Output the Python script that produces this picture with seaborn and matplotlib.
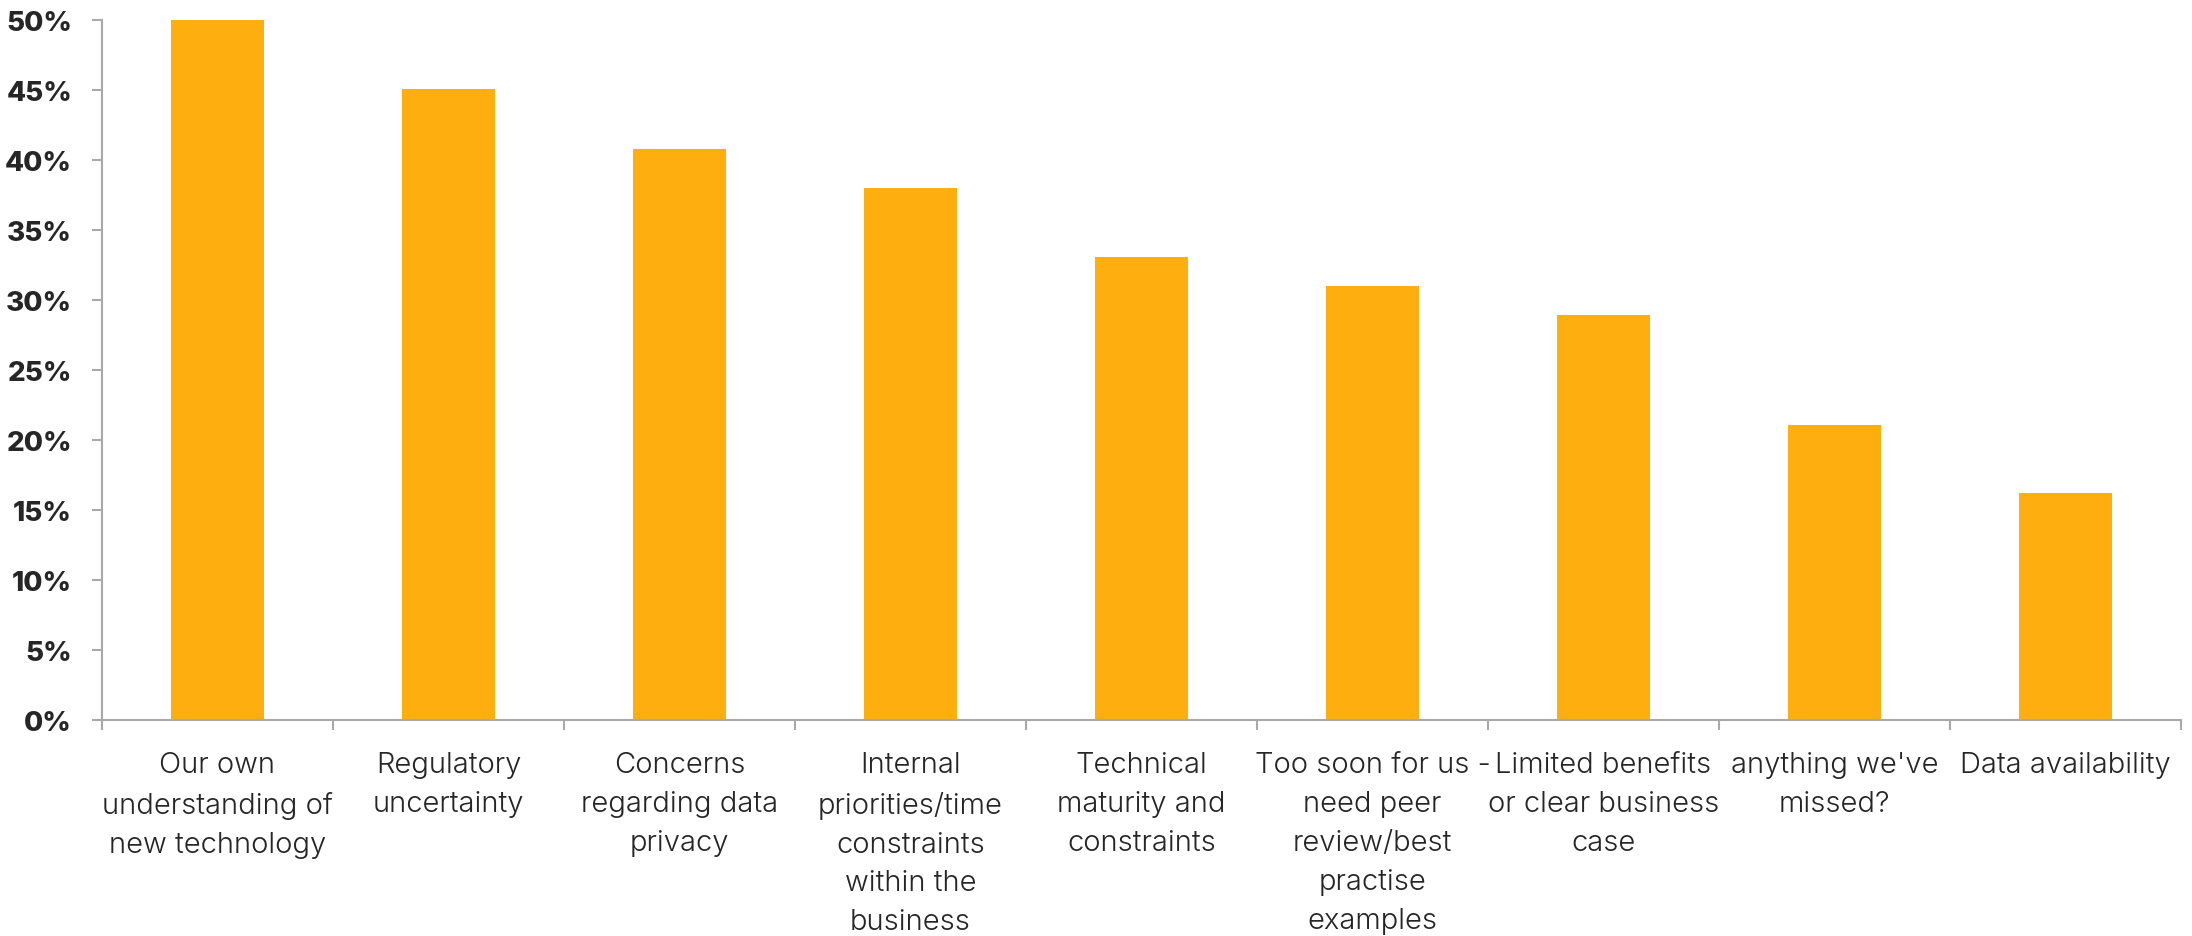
import matplotlib
matplotlib.use("Agg")
import matplotlib.pyplot as plt
from matplotlib.ticker import FixedLocator, NullFormatter
import seaborn as sns

# Survey: barriers to adopting new technology (share of respondents, %)
categories = [
    "Our own\nunderstanding of\nnew technology",
    "Regulatory\nuncertainty",
    "Concerns\nregarding data\nprivacy",
    "Internal\npriorities/time\nconstraints\nwithin the\nbusiness",
    "Technical\nmaturity and\nconstraints",
    "Too soon for us -\nneed peer\nreview/best\npractise\nexamples",
    "Limited benefits\nor clear business\ncase",
    "anything we've\nmissed?",
    "Data availability",
]
shares = [50.0, 45.1, 40.8, 38.0, 33.1, 31.0, 28.9, 21.1, 16.2]
y_ticks = [0, 5, 10, 15, 20, 25, 30, 35, 40, 45, 50]
y_tick_labels = [f"{t}%" for t in y_ticks]

BAR = "#FFAE0F"
AXIS = "#A9A9A9"
TEXT = "#262626"

sns.set_theme(style="white")
plt.rcParams["font.family"] = ["Inter", "DejaVu Sans"]

fig = plt.figure(figsize=(21.92, 9.37), dpi=100)
ax = fig.add_axes([0.0465, 0.2308, 0.995 - 0.0465, 0.9773 - 0.2308])

sns.barplot(x=list(range(len(categories))), y=shares, color=BAR,
            saturation=1, width=0.4, ax=ax, linewidth=0)

ax.set_xlim(-0.5, len(categories) - 0.5)
ax.set_ylim(0, 50)

for side in ("top", "right"):
    ax.spines[side].set_visible(False)
for side in ("left", "bottom"):
    ax.spines[side].set_color(AXIS)
    ax.spines[side].set_linewidth(1.5)

# y axis: percentage ticks
ax.set_yticks(y_ticks)
ax.set_yticklabels(y_tick_labels, fontweight=800, fontsize=20, color=TEXT)
ax.tick_params(axis="y", which="major", direction="out", length=7.5,
               width=1.5, color=AXIS, pad=14, left=True)

# x axis: labels centred under bars, tick marks on category boundaries
ax.set_xticks(range(len(categories)))
ax.set_xticklabels(categories, fontsize=21, fontweight=300, color=TEXT,
                   linespacing=1.57, va="top", ha="center")
ax.tick_params(axis="x", which="major", length=0, pad=22.5)
ax.xaxis.set_minor_locator(FixedLocator([i - 0.5 for i in range(len(categories) + 1)]))
ax.xaxis.set_minor_formatter(NullFormatter())
ax.tick_params(axis="x", which="minor", direction="out", length=7.5,
               width=1.5, color=AXIS, bottom=True)

ax.set_xlabel("")
ax.set_ylabel("")
ax.grid(False)

fig.savefig("out.png", dpi=100, facecolor="white")
